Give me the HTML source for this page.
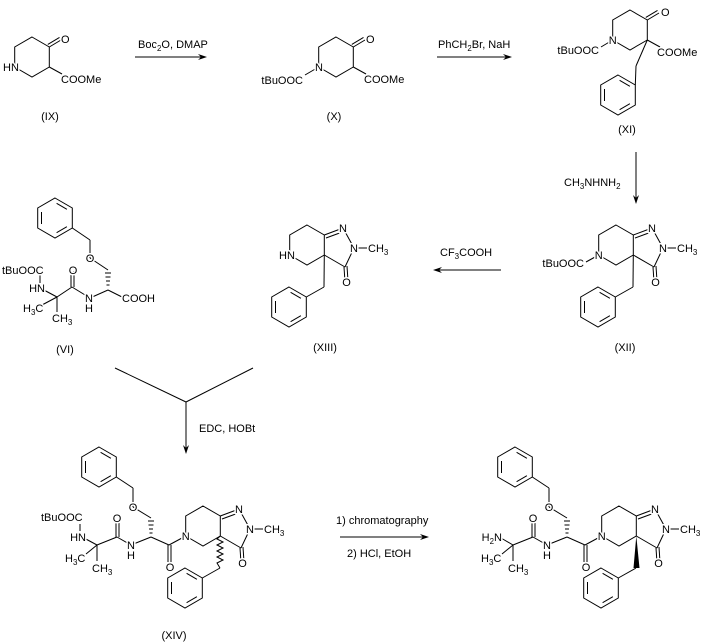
<!DOCTYPE html>
<html><head><meta charset="utf-8"><style>
html,body{margin:0;padding:0;background:#fff;}
svg{display:block;}
text{font-family:"Liberation Sans",Arial,sans-serif;font-size:11px;fill:#000;paint-order:stroke;stroke:#fff;stroke-width:3px;stroke-linejoin:round;}
.s{font-size:8px;}
line,polyline,polygon.r{stroke:#000;stroke-width:1;fill:none;}
</style></head><body>
<svg width="704" height="643" viewBox="0 0 704 643" xmlns="http://www.w3.org/2000/svg">
<defs>
<g id="hx"><polygon class="r" points="0,-20 17.3,-10 17.3,10 0,20 -17.3,10 -17.3,-10"/></g>
<g id="bz"><polygon class="r" points="0,-20 17.3,-10 17.3,10 0,20 -17.3,10 -17.3,-10"/>
<line x1="-13.5" y1="-6" x2="-13.5" y2="6"/><line x1="1.6" y1="-14.7" x2="11.9" y2="-8.7"/><line x1="11.9" y1="8.7" x2="1.6" y2="14.7"/></g>
<g id="ah"><polygon points="0,0 -9,-3 -6,0 -9,3" fill="#000"/></g>
<g id="pz">
<use href="#hx"/>
<line x1="17.3" y1="-10" x2="36" y2="-17"/><line x1="19" y1="-7" x2="34" y2="-12.5"/>
<line x1="36" y1="-17" x2="47" y2="3"/>
<line x1="47" y1="3" x2="38" y2="22"/>
<line x1="38" y1="22" x2="17.3" y2="10"/>
<line x1="37" y1="22" x2="38" y2="37"/><line x1="40" y1="21" x2="41" y2="36"/>
<line x1="47" y1="3" x2="60" y2="3"/>
<text x="36" y="-13" text-anchor="middle">N</text>
<text x="47" y="7" text-anchor="middle">N</text>
<text x="39.5" y="41" text-anchor="middle">O</text>
<text x="61" y="7">CH<tspan class="s" dy="3">3</tspan></text>
</g>
<g id="bzl">
<line x1="17.3" y1="10" x2="17" y2="42"/><line x1="17" y1="42" x2="-0.7" y2="52"/>
<use href="#bz" x="-18" y="62"/>
</g>
</defs>

<!-- IX -->
<use href="#hx" x="32" y="57"/>
<line x1="49.3" y1="47" x2="61" y2="40"/><line x1="47.8" y1="44.4" x2="59.5" y2="37.4"/>
<text x="61" y="43">O</text>
<line x1="49.3" y1="67" x2="62" y2="74"/>
<text x="61" y="83">COOMe</text>
<text x="3" y="71">HN</text>
<text x="50" y="120" text-anchor="middle">(IX)</text>

<line x1="135" y1="57" x2="204" y2="57"/><use href="#ah" x="207" y="57"/>
<text x="138" y="48">Boc<tspan class="s" dy="3">2</tspan><tspan dy="-3">O, DMAP</tspan></text>

<!-- X -->
<use href="#hx" x="336" y="57"/>
<line x1="353.3" y1="47" x2="365" y2="40"/><line x1="351.8" y1="44.4" x2="363.5" y2="37.4"/>
<text x="366" y="43">O</text>
<line x1="353.3" y1="67" x2="366" y2="74"/>
<text x="364" y="83">COOMe</text>
<line x1="318.7" y1="67" x2="305" y2="75"/>
<text x="319" y="71" text-anchor="middle">N</text>
<text x="303" y="84" text-anchor="end">tBuOOC</text>
<text x="334" y="120" text-anchor="middle">(X)</text>

<line x1="437" y1="57" x2="509" y2="57"/><use href="#ah" x="512" y="57"/>
<text x="438" y="48">PhCH<tspan class="s" dy="3">2</tspan><tspan dy="-3">Br, NaH</tspan></text>

<!-- XI -->
<use href="#hx" x="630" y="30"/>
<line x1="647.3" y1="20" x2="659" y2="13"/><line x1="645.8" y1="17.4" x2="657.5" y2="10.4"/>
<text x="661" y="16">O</text>
<line x1="647.3" y1="40" x2="660" y2="47"/>
<text x="657" y="56">COOMe</text>
<line x1="612.7" y1="40" x2="601" y2="47"/>
<text x="612.7" y="44" text-anchor="middle">N</text>
<text x="599" y="54" text-anchor="end">tBuOOC</text>
<line x1="647.3" y1="40" x2="636" y2="66"/><line x1="636" y1="66" x2="635.3" y2="85"/>
<use href="#bz" x="618" y="95"/>
<text x="627" y="133" text-anchor="middle">(XI)</text>

<line x1="636" y1="152" x2="636" y2="200"/><use href="#ah" x="636" y="204" transform="rotate(90 636 204)"/>
<text x="564" y="186">CH<tspan class="s" dy="3">3</tspan><tspan dy="-3">NHNH</tspan><tspan class="s" dy="3">2</tspan></text>

<!-- XII -->
<g transform="translate(616,245)"><use href="#pz"/><use href="#bzl"/>
<line x1="-17.3" y1="10" x2="-30" y2="17"/>
<text x="-17.3" y="14" text-anchor="middle">N</text>
<text x="-32" y="22" text-anchor="end">tBuOOC</text></g>
<text x="625" y="351" text-anchor="middle">(XII)</text>

<line x1="501" y1="270" x2="437" y2="270"/><use href="#ah" x="433" y="270" transform="rotate(180 433 270)"/>
<text x="440" y="256">CF<tspan class="s" dy="3">3</tspan><tspan dy="-3">COOH</tspan></text>

<!-- XIII -->
<g transform="translate(307,245)"><use href="#pz"/><use href="#bzl"/>
<text x="-28" y="14">HN</text></g>
<text x="325" y="351" text-anchor="middle">(XIII)</text>

<!-- VI -->
<use href="#bz" x="55" y="218"/>
<line x1="72.3" y1="228" x2="90" y2="240"/><line x1="90" y1="240" x2="90" y2="258"/>
<line x1="90" y1="258" x2="108" y2="270"/>
<line x1="105" y1="273" x2="111" y2="273"/><line x1="105.5" y1="277" x2="110.5" y2="277"/><line x1="106" y1="281" x2="110" y2="281"/><line x1="106.5" y1="285" x2="109.5" y2="285"/>
<line x1="108" y1="290" x2="124" y2="298"/>
<line x1="108" y1="290" x2="90" y2="298"/>
<line x1="90" y1="298" x2="72" y2="287"/>
<line x1="71" y1="287" x2="71" y2="271"/><line x1="74" y1="287" x2="74" y2="271"/>
<line x1="72" y1="287" x2="57" y2="297"/>
<line x1="57" y1="297" x2="42" y2="289"/>
<line x1="40" y1="283" x2="40" y2="274"/>
<line x1="57" y1="297" x2="42" y2="305"/>
<line x1="57" y1="297" x2="57" y2="312"/>
<text x="90" y="262" text-anchor="middle">O</text>
<text x="122" y="302">COOH</text>
<text x="89" y="302" text-anchor="middle">N</text>
<text x="89" y="312" text-anchor="middle">H</text>
<text x="73" y="274" text-anchor="middle">O</text>
<text x="45" y="292" text-anchor="end">HN</text>
<text x="2" y="274">tBuOOC</text>
<text x="23" y="312">H<tspan class="s" dy="3">3</tspan><tspan dy="-3">C</tspan></text>
<text x="52" y="322">CH<tspan class="s" dy="3">3</tspan></text>
<text x="65" y="353" text-anchor="middle">(VI)</text>

<line x1="115" y1="368" x2="186" y2="402"/><line x1="253" y1="368" x2="186" y2="402"/>
<line x1="186" y1="402" x2="186" y2="450"/><use href="#ah" x="186" y="454" transform="rotate(90 186 454)"/>
<text x="199" y="432">EDC, HOBt</text>

<g id="pep">
<use href="#bz" x="99" y="467"/>
<line x1="116.3" y1="477" x2="133" y2="488"/><line x1="133" y1="488" x2="133" y2="507"/>
<line x1="133" y1="507" x2="151" y2="518"/>
<line x1="148" y1="521" x2="154" y2="521"/><line x1="148.5" y1="525" x2="153.5" y2="525"/><line x1="149" y1="529" x2="153" y2="529"/><line x1="149.5" y1="533" x2="152.5" y2="533"/>
<line x1="151" y1="537" x2="131" y2="545"/>
<line x1="131" y1="545" x2="117" y2="537"/>
<line x1="116" y1="537" x2="116" y2="520"/><line x1="119" y1="537" x2="119" y2="520"/>
<line x1="117" y1="537" x2="97" y2="545"/>
<line x1="97" y1="545" x2="86" y2="554"/>
<line x1="97" y1="545" x2="97" y2="561"/>
<line x1="151" y1="537" x2="169" y2="545"/>
<line x1="168" y1="545" x2="168" y2="562"/><line x1="171" y1="545" x2="171" y2="562"/>
<line x1="169" y1="545" x2="185.7" y2="536"/>
<g transform="translate(203,526)"><use href="#pz"/></g>
<text x="133" y="511" text-anchor="middle">O</text>
<text x="131" y="549" text-anchor="middle">N</text>
<text x="131" y="559" text-anchor="middle">H</text>
<text x="117" y="522" text-anchor="middle">O</text>
<text x="170" y="571" text-anchor="middle">O</text>
<text x="185.7" y="540" text-anchor="middle">N</text>
<text x="65" y="562">H<tspan class="s" dy="3">3</tspan><tspan dy="-3">C</tspan></text>
<text x="92" y="572">CH<tspan class="s" dy="3">3</tspan></text>
<use href="#bz" x="185" y="588"/>
<line x1="220" y1="568" x2="202.3" y2="578"/>
</g>
<line x1="97" y1="545" x2="84" y2="538"/>
<line x1="80" y1="531" x2="80" y2="524"/>
<text x="86" y="541" text-anchor="end">HN</text>
<text x="41" y="521">tBuOOC</text>
<polyline points="220.3,536 217,539 223,542 217,545 223,548 217,551 223,554 217,557 223,560 217,563 220,568"/>
<text x="174" y="639" text-anchor="middle">(XIV)</text>

<line x1="340" y1="537" x2="424" y2="537"/><use href="#ah" x="429" y="537"/>
<text x="336" y="524">1) chromatography</text>
<text x="347" y="557">2) HCl, EtOH</text>

<use href="#pep" x="416" y="0"/>
<line x1="513" y1="545" x2="501" y2="538"/>
<text x="502" y="541" text-anchor="end">H<tspan class="s" dy="3">2</tspan><tspan dy="-3">N</tspan></text>
<polygon points="636.3,536 633.5,568 639.5,568" fill="#000"/>
</svg>
</body></html>
